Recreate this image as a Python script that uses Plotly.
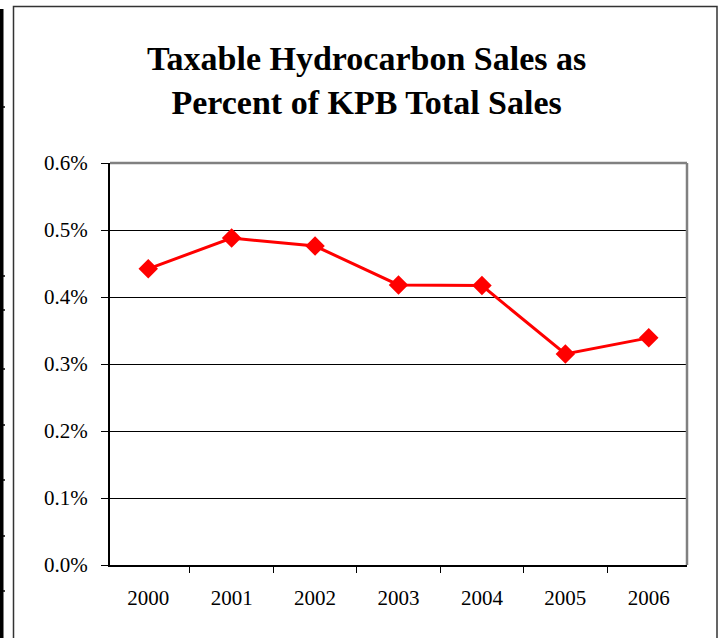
import plotly.graph_objects as go

years = ["2000", "2001", "2002", "2003", "2004", "2005", "2006"]
share = [0.00442, 0.00488, 0.00476, 0.00418, 0.00417, 0.00315, 0.00339]
y_ticks = [0, 0.001, 0.002, 0.003, 0.004, 0.005, 0.006]
title_lines = ["Taxable Hydrocarbon Sales as", "Percent of KPB Total Sales"]

W, H = 723, 638
L, R, T, B = 110, 687, 163, 565


def px(x):
    return (x - L) / (R - L)


def py(y):
    return (B - y) / (B - T)


fig = go.Figure()
fig.add_trace(go.Scatter(
    x=years, y=share, mode="lines+markers",
    line=dict(color="#FF0000", width=3),
    marker=dict(symbol="diamond", size=15, color="#FF0000"),
    cliponaxis=False, showlegend=False,
))

serif = "Liberation Serif"

fig.update_layout(
    width=W, height=H,
    margin=dict(l=L, r=W - R, t=T, b=H - B, pad=0),
    paper_bgcolor="white", plot_bgcolor="white",
    font=dict(family=serif, size=21, color="black"),
    xaxis=dict(
        type="category", tickson="boundaries", ticks="outside", ticklen=6,
        tickcolor="black", tickwidth=1, showgrid=False, showline=True,
        linecolor="black", linewidth=2, ticklabelstandoff=13,
        tickfont=dict(family=serif, size=21),
    ),
    yaxis=dict(
        range=[0, 0.006], tickvals=y_ticks, tickformat=".1%",
        ticks="outside", ticklen=7, tickcolor="black", tickwidth=1,
        showgrid=True, gridcolor="black", gridwidth=1,
        showline=True, linecolor="black", linewidth=2,
        zeroline=False, ticklabelstandoff=9,
        tickfont=dict(family=serif, size=21),
    ),
)

shapes = []
# gray plot border top and right
shapes.append(dict(type="line", xref="paper", yref="paper", x0=0, x1=1, y0=1, y1=1,
                   line=dict(color="#808080", width=2.5)))
shapes.append(dict(type="line", xref="paper", yref="paper", x0=1, x1=1, y0=0, y1=1,
                   line=dict(color="#808080", width=2.5)))
# outer frame
shapes.append(dict(type="rect", xref="paper", yref="paper",
                   x0=px(13.5), x1=px(717), y0=py(645), y1=py(6.5),
                   line=dict(color="#333333", width=1.5), layer="below"))
# black bar at left edge
shapes.append(dict(type="rect", xref="paper", yref="paper",
                   x0=px(0), x1=px(3.5), y0=py(645), y1=py(9),
                   line=dict(width=0), fillcolor="black"))
for ny in [107, 276, 310, 369, 425, 480, 536, 591]:
    shapes.append(dict(type="line", xref="paper", yref="paper",
                       x0=px(3), x1=px(5), y0=py(ny), y1=py(ny),
                       line=dict(color="black", width=1.5)))
fig.update_layout(shapes=shapes)

fig.add_annotation(
    xref="paper", yref="paper", x=px(366.5), y=py(80),
    xanchor="center", yanchor="middle", showarrow=False,
    text="<b>" + "<br>".join(title_lines) + "</b>",
    font=dict(family=serif, size=34, color="black"),
)

fig.write_html(
    "out.html",
    config={"displayModeBar": False},
    post_script="document.body.style.margin='0';document.body.style.overflow='hidden';",
)
